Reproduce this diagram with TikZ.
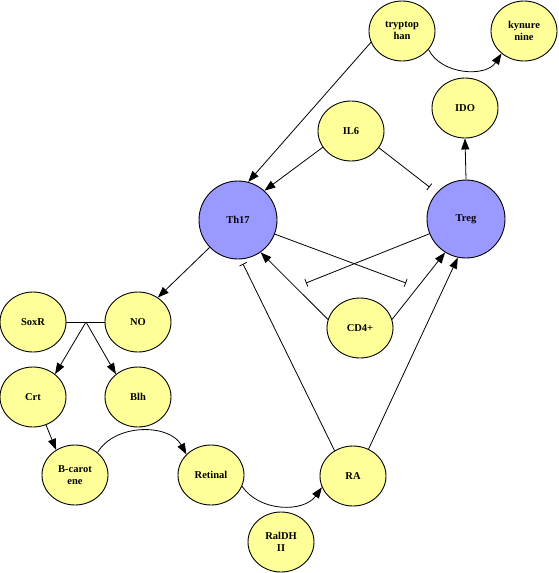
\documentclass[tikz,border=0pt]{standalone}
\usepackage{fontspec}
\setmainfont{Liberation Serif}
\usetikzlibrary{arrows.meta, shapes.geometric}
\definecolor{molyellow}{RGB}{255,255,153}
\definecolor{cellblue}{RGB}{153,153,255}
\tikzset{
  mol/.style={ellipse, draw=black, line width=0.9pt, fill=molyellow,
    minimum width=66pt, minimum height=60pt, inner sep=0pt, align=center,
    font=\fontsize{10.5}{12}\selectfont\bfseries},
  cell/.style={circle, draw=black, line width=0.9pt, fill=cellblue,
    minimum size=78pt, inner sep=0pt, font=\fontsize{10.5}{12}\selectfont\bfseries},
  act/.style={-{Triangle[length=11pt,width=8pt]}, line width=0.8pt},
  inh/.style={-{Bar[width=8pt]}, line width=0.8pt},
}

\begin{document}
\begin{tikzpicture}[x=1pt, y=1pt]
        \useasboundingbox (0,0) rectangle (559,-573);

        % --- Cellules ---
        \node[cell] (th17) at (238,-220) {Th17};
        \node[cell] (treg) at (466,-219) {Treg};

        % --- Molecules du haut ---
        \node[mol] (trp) at (402,-31) {tryptop\\han};
        \node[mol] (kyn) at (524,-31) {kynure\\nine};
        \node[mol] (ido) at (465,-108) {IDO};
        \node[mol] (il6) at (351,-131) {IL6};
        \node[mol] (cd4) at (360,-328) {CD4+};

        % --- Molecules du bas ---
        \node[mol] (soxr) at (33,-322) {SoxR};
        \node[mol] (no) at (138,-322) {NO};
        \node[mol] (crt) at (33,-397) {Crt};
        \node[mol] (blh) at (138,-397) {Blh};
        \node[mol] (bcar) at (75,-475) {B-carot\\ene};
        \node[mol] (ret) at (211,-475) {Retinal};
        \node[mol] (ra) at (353,-476) {RA};
        \node[mol] (ral) at (281,-542) {RalDH\\II};

        % --- Points libres ---
        \coordinate (jn) at (86,-322);
        \coordinate (barL) at (306,-283);
        \coordinate (barR) at (406,-283);

        % --- Activations ---
        \draw[act] (trp.200) -- (th17.75);
        \draw[act] (trp.-35) to[bend right=60] (kyn.-135);
        \draw[act] (treg.90) -- (ido.-90);
        \draw[act] (il6.210) -- (th17.48);
        \draw[act] (cd4.165) -- (th17.-55);
        \draw[act] (cd4.15) -- (treg.-122);
        \draw[act] (ra.60) -- (treg.-102);
        \draw[act] (th17.224) -- (no.51);
        \draw[act] (crt.-65) -- (bcar.127);
        \draw[act] (bcar.45) to[bend left=60] (ret.140);
        \draw[act] (ret.-20) to[bend right=55] (ra.-160);

        % --- SoxR / NO ---
        \draw[line width=0.8pt] (soxr) -- (no);
        \draw[act] (jn) -- (crt.46);
        \draw[act] (jn) -- (blh.134);

        % --- Inhibitions ---
        \draw[inh, shorten >=9pt] (il6.-31) -- (treg.138);
        \draw[inh, shorten >=5pt] (ra.126) -- (th17.-86);
        \draw[inh] (th17.-21) -- (barR);
        \draw[inh] (treg.202) -- (barL);
    \end{tikzpicture}
\end{document}
